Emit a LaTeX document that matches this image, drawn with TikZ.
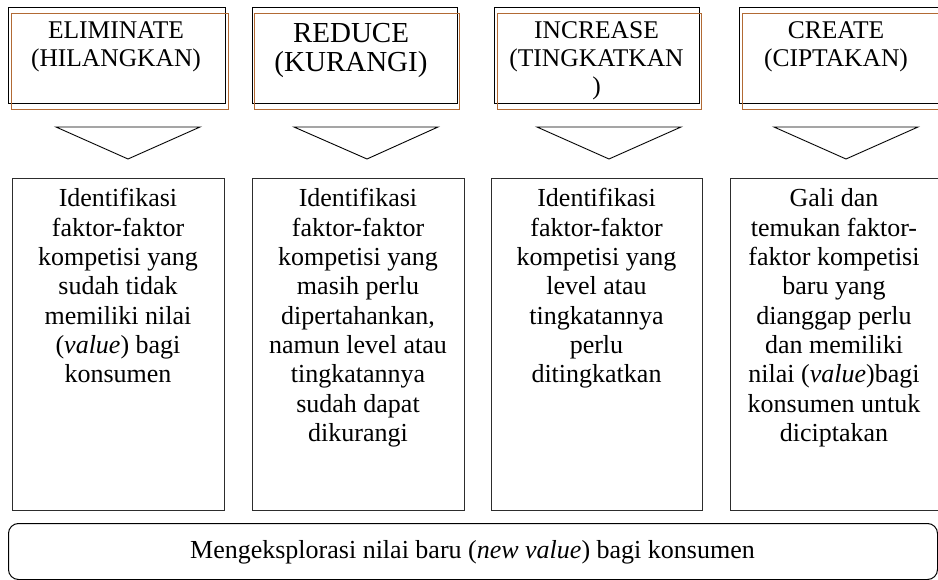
\documentclass[tikz,border=0pt]{standalone}
\usepackage{fontspec}
\setmainfont{Liberation Serif}
\definecolor{brownline}{RGB}{178,106,52}
\definecolor{boxline}{RGB}{45,45,45}
\begin{document}
\begin{tikzpicture}[x=1pt,y=-1pt,
  headblack/.style={draw=black, line width=1pt, inner sep=0pt, anchor=north west},
  headbrown/.style={draw=brownline, line width=1pt, inner sep=0pt, anchor=north west},
  lowbox/.style={draw=boxline, line width=1pt, inner sep=0pt, anchor=north west, minimum width=212pt, minimum height=332pt},
  tri/.style={draw=black, line width=0.9pt, line join=miter},
  headtxt/.style={anchor=base, inner sep=0pt, text width=215pt, align=flush center, font=\fontsize{25.5}{28}\selectfont},
  bigtxt/.style={anchor=base, inner sep=0pt, text width=215pt, align=flush center, font=\fontsize{29}{29}\selectfont},
  bodytxt/.style={anchor=base, inner sep=0pt, text width=210pt, align=flush center, font=\fontsize{26}{29.3}\selectfont},
  foottxt/.style={anchor=base, inner sep=0pt, font=\fontsize{26}{28}\selectfont}
]
\useasboundingbox (0,0) rectangle (938,580);
\clip (0,0) rectangle (938,580);
\fill[white] (0,0) rectangle (938,580);

% header boxes: black and brown (offset copy)
\node[headblack, minimum width=217pt, minimum height=96pt] (elimB) at (8,7) {};
\node[headbrown, minimum width=217pt, minimum height=96pt] (elimR) at (11,13) {};
\node[headblack, minimum width=205pt, minimum height=96pt] (redB) at (252,7) {};
\node[headbrown, minimum width=205pt, minimum height=96pt] (redR) at (254,13) {};
\node[headblack, minimum width=205pt, minimum height=96pt] (incB) at (494,7) {};
\node[headbrown, minimum width=204pt, minimum height=96pt] (incR) at (497,13) {};
\node[headblack, minimum width=217pt, minimum height=96pt] (creB) at (739,7) {};
\node[headbrown, minimum width=217pt, minimum height=96pt] (creR) at (742,13) {};

\node[headtxt] (elimT) at (116,39) {ELIMINATE\\(HILANGKAN)};
\node[bigtxt] (redT) at (351,43) {REDUCE\\(KURANGI)};
\node[headtxt] (incT) at (596.5,39) {INCREASE\\(TINGKATKAN\\)};
\node[headtxt] (creT) at (836,39) {CREATE\\(CIPTAKAN)};

% triangles
\coordinate (t1) at (128,159);
\coordinate (t2) at (367,159);
\coordinate (t3) at (609,159);
\coordinate (t4) at (846,159);
\draw[tri] (56,127) -- (200,127) -- (t1) -- cycle;
\draw[tri] (294,127) -- (438,127) -- (t2) -- cycle;
\draw[tri] (537,127) -- (681,127) -- (t3) -- cycle;
\draw[tri] (774,127) -- (918,127) -- (t4) -- cycle;

% lower boxes
\node[lowbox] (elimL) at (12,178) {};
\node[lowbox] (redL) at (252,178) {};
\node[lowbox, minimum width=211pt] (incL) at (491,178) {};
\node[lowbox] (creL) at (730,178) {};

\node[bodytxt] (elimD) at (118,207) {Identifikasi\\faktor-faktor\\kompetisi yang\\sudah tidak\\memiliki nilai\\(\textit{value}) bagi\\konsumen};
\node[bodytxt] (redD) at (358,207) {Identifikasi\\faktor-faktor\\kompetisi yang\\masih perlu\\dipertahankan,\\namun level atau\\tingkatannya\\sudah dapat\\dikurangi};
\node[bodytxt] (incD) at (596.5,207) {Identifikasi\\faktor-faktor\\kompetisi yang\\level atau\\tingkatannya\\perlu\\ditingkatkan};
\node[bodytxt] (creD) at (834,207) {Gali dan\\temukan faktor-\\faktor kompetisi\\baru yang\\dianggap perlu\\dan memiliki\\nilai (\textit{value})bagi\\konsumen untuk\\diciptakan};

% bottom box
\node[draw=black, line width=1pt, rounded corners=10pt, inner sep=0pt, anchor=north west, minimum width=929pt, minimum height=56pt] (explore) at (8,523) {};
\node[foottxt] (exploreT) at (472.5,558) {Mengeksplorasi nilai baru (\textit{new value}) bagi konsumen};
\end{tikzpicture}
\end{document}
